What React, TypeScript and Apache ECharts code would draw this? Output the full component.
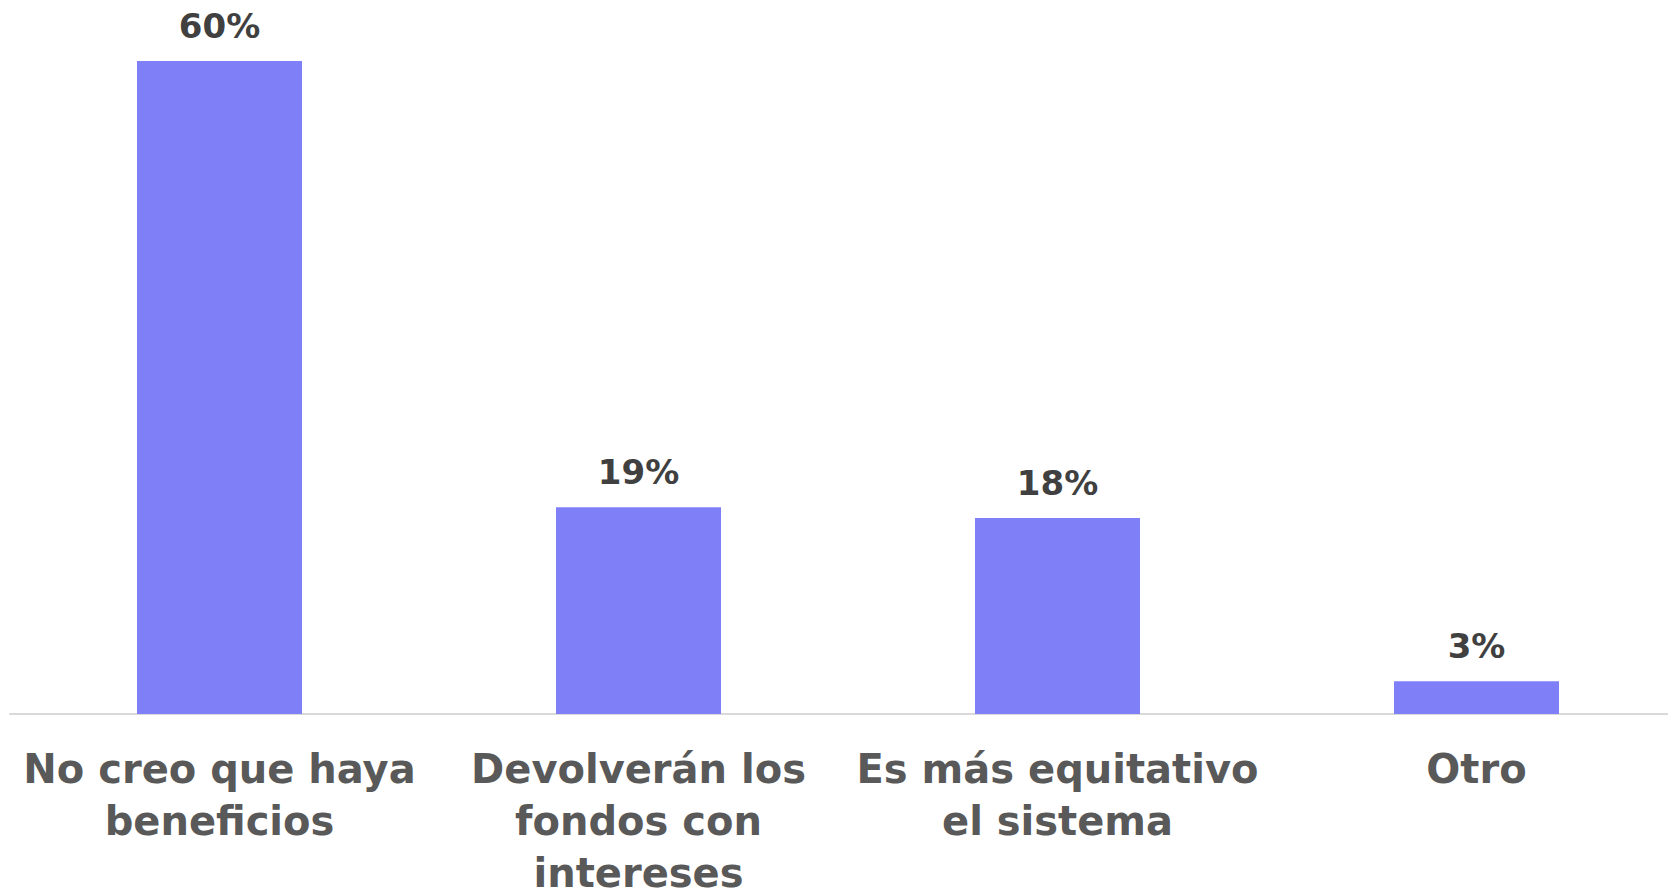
import React, { useEffect, useRef } from "react";
import * as echarts from "echarts";

const categories = [
  "No creo que haya\nbeneficios",
  "Devolverán los\nfondos con\nintereses",
  "Es más equitativo\nel sistema",
  "Otro",
];
const values = [60, 19, 18, 3];

export default function App() {
  const ref = useRef<HTMLDivElement>(null);
  useEffect(() => {
    if (!ref.current) return;
    const chart = echarts.init(ref.current, null, { renderer: "svg" });
    chart.setOption({
      animation: false,
      backgroundColor: "#ffffff",
      grid: {
        left: 10,
        top: 61,
        width: 1676,
        height: 653,
        containLabel: false,
        outerBoundsMode: "none",
      },
      xAxis: {
        type: "category",
        data: categories,
        axisLine: { show: true, lineStyle: { color: "#d9d9d9", width: 2 } },
        axisTick: { show: false },
        axisLabel: {
          interval: 0,
          margin: 29,
          color: "#595959",
          fontFamily: "DejaVu Sans",
          fontWeight: "bold",
          fontSize: 40,
          lineHeight: 52,
          align: "center",
        },
      },
      yAxis: {
        type: "value",
        min: 0,
        max: 60,
        show: false,
        splitLine: { show: false },
      },
      series: [
        {
          type: "bar",
          data: values,
          barWidth: 165,
          itemStyle: { color: "#7F80F8" },
          label: {
            show: true,
            position: "top",
            distance: 18,
            formatter: "{c}%",
            color: "#404040",
            fontFamily: "DejaVu Sans",
            fontWeight: "bold",
            fontSize: 34,
          },
        },
      ],
    });
    return () => chart.dispose();
  }, []);
  return (
    <div
      ref={ref}
      style={{ position: "absolute", left: 0, top: 0, width: 1668, height: 893 }}
    />
  );
}
